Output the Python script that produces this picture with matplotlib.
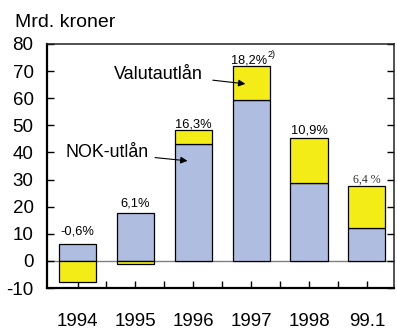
import numpy as np
import matplotlib.pyplot as plt

plt.rcParams['font.family'] = ['Liberation Sans', 'DejaVu Sans']

aar = ['1994', '1995', '1996', '1997', '1998', '99.1']
nok_utlan = [6.4, 17.7, 43.1, 59.4, 28.7, 12.2]
valuta_utlan = [-7.8, -1.0, 5.0, 12.5, 16.6, 15.3]
vekst = ['-0,6%', '6,1%', '16,3%', '18,2%', '10,9%', '6,4 %']

blaa = '#aebde0'
gul = '#f3ec17'

fig = plt.figure(figsize=(3.97, 3.32), dpi=100)
ax = fig.add_axes([0.1196, 0.1325, 0.873, 0.735])

x = np.arange(len(aar))
b = 0.64
ax.bar(x, nok_utlan, b, color=blaa, edgecolor='black', linewidth=0.9, zorder=2)
# valutautlån stables oppå NOK, negative verdier går under null
bunn = [n if v >= 0 else 0 for n, v in zip(nok_utlan, valuta_utlan)]
ax.bar(x, valuta_utlan, b, bottom=bunn, color=gul, edgecolor='black', linewidth=0.9, zorder=2)

ax.axhline(0, color='#808080', linewidth=1.0, zorder=1)

# vekstrater over søylene
avstand = [3.3, 2.4, 1.0, 1.0, 1.8, 1.2]
for i, t in enumerate(vekst):
    topp = max(nok_utlan[i], nok_utlan[i] + valuta_utlan[i])
    if i == 5:
        ax.text(x[i], topp + avstand[i], t, ha='center', va='baseline', fontsize=8.6,
                family='Liberation Serif', color='#333333')
    elif i == 3:
        ax.text(x[i] - 0.03, topp + avstand[i], t, ha='center', va='baseline', fontsize=9.2)
        ax.text(x[i] + 0.28, topp + avstand[i] + 2.2, '2)', ha='left', va='baseline', fontsize=6.5)
    else:
        ax.text(x[i], topp + avstand[i], t, ha='center', va='baseline', fontsize=9.3)

ax.annotate('Valutautlån', xy=(2.9, 65.3), xytext=(2.17, 68.9), fontsize=13,
            ha='right', va='center',
            arrowprops=dict(arrowstyle='-|>', color='black', lw=0.8,
                            mutation_scale=10, shrinkA=5, shrinkB=0))
ax.annotate('NOK-utlån', xy=(1.9, 36.9), xytext=(1.22, 39.9), fontsize=12.8,
            ha='right', va='center',
            arrowprops=dict(arrowstyle='-|>', color='black', lw=0.8,
                            mutation_scale=10, shrinkA=3, shrinkB=0))

ax.set_xlim(-0.52, 5.47)
ax.set_ylim(-10, 80)
ax.set_yticks(range(-10, 81, 10))
ax.set_yticklabels([str(v) for v in range(-10, 81, 10)], fontsize=13.5)
ax.tick_params(axis='y', direction='in', length=5, width=1.0, right=True, pad=10)
ax.set_xticks(x)
ax.set_xticklabels(aar, fontsize=13.5)
ax.set_xticks(np.arange(0.5, 5, 1.0), minor=True)
ax.tick_params(axis='x', which='both', direction='in', length=5, width=1.0, pad=18)

for s in ['left', 'bottom']:
    ax.spines[s].set_linewidth(1.6)
for s in ['top', 'right']:
    ax.spines[s].set_linewidth(1.1)
    ax.spines[s].set_color('#222222')

fig.text(15 / 397, 1 - 26.7 / 332, 'Mrd. kroner', fontsize=14, ha='left', va='baseline')

fig.savefig('out.png', dpi=100)
